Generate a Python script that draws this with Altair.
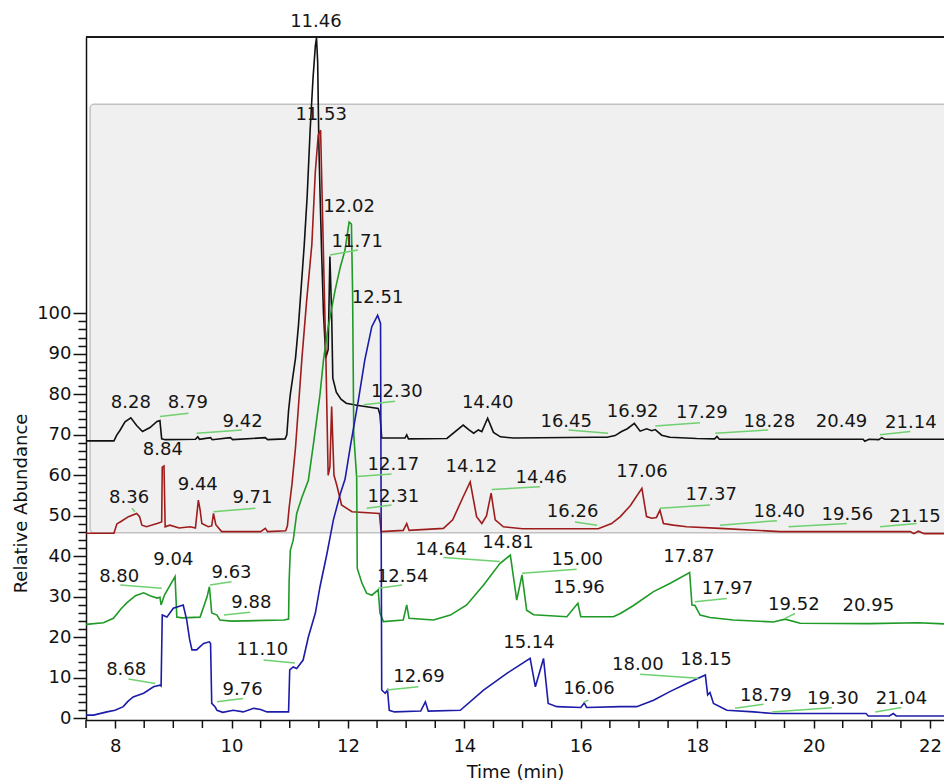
import altair as alt
import pandas as pd

# ---- chromatogram traces (retention time in min, plotted abundance) ----
black_time = [7.50, 7.98, 8.03, 8.08, 8.17, 8.27, 8.37, 8.47, 8.60, 8.72, 8.77, 8.80, 8.86, 9.38, 9.42,
              9.45, 9.64, 9.67, 9.98, 10.02, 10.58, 10.62, 10.92, 10.95, 10.98, 11.01, 11.05, 11.10,
              11.15, 11.20, 11.25, 11.30, 11.35, 11.40, 11.44, 11.46, 11.48, 11.50, 11.52, 11.55, 11.58,
              11.62, 11.66, 11.69, 11.72, 11.74, 11.80, 11.88, 11.97, 12.15, 12.52, 12.55, 12.58, 12.98,
              13.01, 13.04, 13.70, 13.98, 14.08, 14.16, 14.24, 14.30, 14.40, 14.50, 14.62, 14.84, 16.22,
              16.45, 16.59, 16.70, 16.80, 16.92, 17.02, 17.13, 17.22, 17.28, 17.39, 17.53, 17.99, 18.30,
              18.34, 18.38, 20.85, 20.88, 20.95, 21.12, 21.17, 21.22, 22.30]
black_abund = [68.5, 68.5, 70.0, 71.0, 73.2, 74.2, 72.3, 70.8, 71.8, 73.3, 73.5, 69.0, 68.8, 68.9, 69.5,
               68.9, 69.3, 68.8, 69.3, 68.8, 69.3, 68.8, 69.0, 70.0, 76.0, 80.0, 84.0, 89.0,
               97.0, 107.0, 117.0, 129.0, 145.0, 158.0, 166.0, 168.0, 162.0, 142.0, 130.0, 114.0, 100.0,
               89.0, 91.0, 114.0, 100.0, 84.0, 80.5, 78.8, 77.8, 77.3, 76.5, 75.0, 69.2, 69.2,
               70.0, 69.0, 69.1, 72.4, 71.2, 70.4, 71.2, 70.8, 74.1, 70.6, 69.5, 69.2, 69.4,
               69.4, 69.8, 70.8, 71.5, 72.8, 70.9, 71.5, 71.0, 71.3, 69.9, 69.4, 69.1, 69.0,
               69.6, 68.9, 68.9, 68.4, 68.9, 68.8, 69.3, 68.9, 68.9]

red_time = [7.50, 7.98, 8.03, 8.10, 8.23, 8.37, 8.42, 8.46, 8.54, 8.72, 8.80, 8.81, 8.84, 8.86, 8.94,
            9.10, 9.29, 9.38, 9.43, 9.46, 9.49, 9.60, 9.66, 9.69, 9.73, 9.83, 10.50, 10.58, 10.62,
            10.93, 10.96, 10.99, 11.04, 11.10, 11.15, 11.21, 11.29, 11.38, 11.44, 11.49, 11.53, 11.55,
            11.58, 11.62, 11.66, 11.69, 11.72, 11.76, 11.81, 11.89, 12.07, 12.54, 12.57, 12.95, 13.01,
            13.05, 13.64, 13.80, 13.98, 14.10, 14.21, 14.30, 14.38, 14.46, 14.53, 14.67, 15.00, 16.30,
            16.53, 16.68, 16.85, 17.05, 17.13, 17.22, 17.30, 17.36, 17.42, 17.59, 17.82, 18.39, 19.42,
            21.66, 21.72, 21.80, 21.90, 22.30]
red_abund = [45.7, 45.7, 48.0, 48.6, 49.8, 50.6, 49.8, 47.7, 47.3, 48.1, 48.5, 62.0, 62.3, 47.3, 47.7,
             47.0, 47.3, 47.0, 53.9, 51.5, 48.1, 47.3, 47.5, 50.6, 47.8, 46.1, 46.1, 46.9, 46.1,
             46.3, 47.5, 52.0, 58.0, 67.0, 77.0, 89.0, 103.0, 117.0, 135.0, 144.0, 145.2, 133.0,
             114.0, 90.0, 60.0, 62.0, 77.0, 60.0, 57.5, 52.7, 51.0, 50.6, 46.1, 46.4, 48.1,
             46.4, 46.9, 49.0, 54.7, 58.4, 49.8, 48.1, 50.0, 55.6, 49.0, 47.3, 46.8, 46.8,
             48.1, 49.8, 52.5, 56.8, 49.8, 49.4, 49.6, 51.4, 48.1, 47.7, 47.3, 46.9, 46.1,
             46.1, 45.6, 46.2, 45.6, 45.6]

green_time = [7.50, 7.80, 7.97, 8.10, 8.20, 8.35, 8.49, 8.60, 8.72, 8.77, 8.79, 8.85, 9.03, 9.06, 9.15,
              9.46, 9.58, 9.62, 9.66, 9.75, 9.80, 10.00, 10.90, 10.98, 10.99, 11.01, 11.06, 11.12,
              11.21, 11.32, 11.41, 11.52, 11.58, 11.66, 11.78, 11.87, 11.95, 12.02, 12.06, 12.08, 12.10,
              12.15, 12.16, 12.24, 12.32, 12.41, 12.52, 12.55, 12.61, 12.95, 13.01, 13.05, 13.47, 13.76,
              14.04, 14.33, 14.61, 14.79, 14.90, 14.99, 15.07, 15.19, 15.76, 15.95, 16.00, 16.56, 16.68,
              16.90, 17.25, 17.53, 17.87, 17.91, 17.96, 18.05, 18.22, 18.62, 19.31, 19.51, 19.77, 20.95,
              21.80, 22.30]
green_abund = [23.2, 23.6, 24.7, 27.0, 28.5, 30.3, 31.0, 30.3, 29.7, 29.9, 28.0, 30.5, 35.0, 25.0, 24.8,
               25.0, 30.0, 32.5, 26.0, 25.5, 24.3, 24.0, 24.3, 24.5, 34.0, 41.5, 44.0, 50.6,
               54.6, 58.8, 68.0, 80.0, 88.5, 96.6, 105.7, 111.5, 115.6, 122.5, 122.0, 105.0, 70.0,
               59.5, 37.0, 33.4, 30.9, 30.4, 31.7, 26.0, 23.9, 24.3, 28.0, 24.7, 24.3, 25.5,
               28.0, 32.9, 38.2, 40.3, 29.2, 35.4, 26.7, 25.6, 25.1, 28.4, 25.1, 25.1, 25.9,
               27.8, 31.3, 33.3, 36.0, 28.0, 27.9, 25.5, 24.9, 24.3, 23.8, 24.5, 23.5, 23.4,
               23.6, 23.3]

blue_time = [7.50, 7.63, 7.86, 8.00, 8.14, 8.22, 8.31, 8.49, 8.66, 8.77, 8.79, 8.81, 8.89, 9.00, 9.17,
             9.23, 9.28, 9.32, 9.40, 9.52, 9.62, 9.64, 9.66, 9.72, 9.75, 9.85, 10.03, 10.20, 10.38,
             10.50, 10.61, 10.98, 11.00, 11.06, 11.12, 11.23, 11.32, 11.44, 11.52, 11.64, 11.75, 11.87,
             11.95, 12.04, 12.18, 12.29, 12.41, 12.51, 12.56, 12.58, 12.64, 12.68, 12.71, 12.80, 13.25,
             13.33, 13.38, 13.93, 14.33, 14.73, 15.13, 15.22, 15.36, 15.44, 15.59, 16.00, 16.06, 16.10,
             16.68, 16.96, 17.25, 17.53, 17.82, 18.14, 18.18, 18.22, 18.28, 18.51, 18.97, 19.31, 20.90,
             20.94, 21.30, 21.37, 21.42, 22.30]
blue_abund = [0.8, 0.8, 1.6, 2.0, 2.9, 4.2, 5.3, 6.2, 7.8, 8.2, 8.0, 25.5, 25.0, 27.2, 28.0,
              24.3, 19.5, 16.9, 16.9, 18.5, 18.9, 18.5, 3.7, 2.8, 2.0, 1.5, 2.0, 1.6, 2.5,
              2.2, 1.6, 1.6, 12.0, 12.7, 12.3, 14.4, 20.1, 26.0, 32.5, 40.7, 49.0, 55.5,
              59.0, 67.0, 78.6, 88.5, 96.7, 99.5, 97.5, 7.0, 6.2, 7.0, 2.0, 1.6, 1.8,
              4.1, 1.8, 2.0, 7.0, 11.1, 14.8, 7.8, 14.8, 3.7, 2.9, 2.7, 3.8, 2.7,
              2.9, 2.9, 4.5, 6.6, 8.6, 10.7, 5.8, 6.4, 3.7, 2.0, 1.6, 1.2, 1.2,
              0.6, 0.6, 1.2, 0.6, 0.6]

trace_names = ["black", "red", "green", "blue"]
trace_colors = ["#111111", "#9e1c1c", "#1f9a27", "#1c1ca8"]

# ---- peak annotations: text and its anchor ----
label_text = ["11.46", "11.53", "12.02", "11.71", "12.51", "12.30", "14.40", "16.45", "16.92", "17.29",
              "18.28", "20.49", "21.14", "8.28", "8.79", "9.42", "8.84", "8.36", "9.44", "9.71",
              "12.17", "12.31", "14.12", "14.46", "16.26", "17.06", "17.37", "18.40", "19.56", "21.15",
              "8.80", "9.04", "9.63", "9.88", "8.68", "9.76", "11.10", "12.54", "12.69", "14.64",
              "14.81", "15.00", "15.96", "15.14", "16.06", "18.00", "18.15", "17.87", "17.97", "19.52",
              "20.95", "18.79", "19.30", "21.04"]
label_x = [11.45, 11.54, 12.02, 12.16, 12.51, 12.84, 14.40, 15.75, 16.89, 18.08,
           19.24, 20.48, 21.67, 8.27, 9.25, 10.19, 8.82, 8.24, 9.42, 10.36,
           12.78, 12.78, 14.12, 15.32, 15.86, 17.05, 18.24, 19.41, 20.58, 21.74,
           8.07, 9.00, 10.00, 10.34, 8.19, 10.19, 10.53, 12.94, 13.22, 13.60,
           14.75, 15.94, 15.97, 15.11, 16.14, 16.98, 18.15, 17.86, 18.52, 19.66,
           20.94, 19.18, 20.33, 21.51]
label_y = [171.9, 149.0, 126.3, 117.7, 103.7, 80.6, 77.8, 73.2, 75.7, 75.3,
           73.2, 73.2, 73.0, 77.8, 77.8, 73.2, 66.2, 54.3, 57.6, 54.3,
           62.5, 54.7, 62.1, 59.4, 51.0, 60.9, 55.1, 51.0, 50.2, 49.8,
           35.0, 39.1, 35.8, 28.4, 11.9, 7.0, 16.9, 35.0, 10.3, 41.6,
           43.4, 39.1, 32.1, 18.7, 7.2, 13.2, 14.4, 39.9, 31.9, 28.0,
           27.7, 5.5, 4.7, 4.7]

# ---- leader lines from displaced labels back to their peaks ----
leader_x1 = [11.69, 12.27, 15.79, 17.28, 18.31, 21.14, 8.77, 9.40, 8.29, 9.69,
             12.15, 12.32, 14.47, 15.90, 17.36, 18.39, 19.57, 21.14, 8.09, 9.63,
             9.87, 8.23, 9.75, 10.55, 12.52, 12.67, 13.64, 14.99, 16.04, 17.02,
             17.96, 19.51, 18.65, 19.28, 21.06]
leader_y1 = [114.4, 77.4, 71.2, 72.2, 70.4, 70.0, 74.5, 70.4, 51.9, 51.0,
             59.7, 51.9, 56.5, 48.5, 51.9, 47.7, 47.3, 47.3, 32.9, 32.9,
             25.5, 9.7, 4.1, 14.4, 32.1, 7.0, 39.7, 35.8, 3.9, 10.9,
             28.8, 24.7, 2.5, 1.6, 1.6]
leader_x2 = [12.17, 12.81, 16.47, 18.05, 19.22, 21.66, 9.26, 10.18, 8.34, 10.41,
             12.75, 12.75, 15.30, 16.28, 18.22, 19.37, 20.57, 21.77, 8.80, 10.00,
             10.32, 8.69, 10.20, 11.09, 12.93, 13.21, 14.61, 15.93, 16.13, 18.02,
             18.51, 19.68, 19.14, 20.31, 21.51]
leader_y2 = [115.6, 78.3, 70.4, 73.0, 71.2, 70.8, 75.3, 71.2, 51.0, 51.9,
             60.3, 52.7, 57.2, 47.7, 52.7, 48.8, 48.1, 48.1, 32.1, 33.7,
             26.2, 8.6, 4.9, 13.7, 32.9, 7.8, 38.7, 36.8, 4.5, 9.9,
             29.6, 25.9, 3.5, 2.6, 2.7]

# time axis: numbered ticks every two minutes, unnumbered ticks every half minute between
time_major = [8, 10, 12, 14, 16, 18, 20, 22]
time_minor = [7.5, 8.5, 9, 9.5, 10.5, 11, 11.5, 12.5, 13, 13.5, 14.5, 15, 15.5,
              16.5, 17, 17.5, 18.5, 19, 19.5, 20.5, 21, 21.5]
abund_ticks = list(range(0, 101, 2))

# offset plane behind the two upper traces
plane_x, plane_x2 = 7.57, 23.0
plane_y, plane_y2 = 45.8, 151.6

FONT = "DejaVu Sans"
PLOT_W, PLOT_H = 858, 683
TICK_LEN = 8

xscale = alt.Scale(domain=[7.5, 22.24], nice=False, zero=False)
yscale = alt.Scale(domain=[-0.4, 168.2], nice=False, zero=False)

xaxis = alt.Axis(
    title="Time (min)",
    values=time_major,
    labelOverlap=False,
    labelFlush=False,
    format="d",
    tickSize=TICK_LEN,
    tickColor="#111111",
    tickWidth=1.5,
    domainColor="#111111",
    domainWidth=1.5,
    labelFont=FONT,
    labelFontSize=18,
    labelColor="#111111",
    labelPadding=9,
    titleFont=FONT,
    titleFontSize=18,
    titleFontWeight="normal",
    titleColor="#111111",
    titlePadding=8,
    grid=False,
)
yaxis = alt.Axis(
    title="Relative Abundance",
    values=abund_ticks,
    labelExpr="datum.value % 10 == 0 ? datum.label : ''",
    labelOverlap=False,
    format="d",
    tickSize={"condition": {"test": "datum.value % 10 == 0", "value": 13}, "value": 8},
    tickColor="#111111",
    tickWidth=1.5,
    domainColor="#111111",
    domainWidth=1.5,
    labelFont=FONT,
    labelFontSize=18,
    labelColor="#111111",
    labelPadding=2,
    titleFont=FONT,
    titleFontSize=18,
    titleFontWeight="normal",
    titleColor="#111111",
    titlePadding=6,
    titleY=466,
    grid=False,
)


def X(field):
    return alt.X(field, type="quantitative", scale=xscale, axis=xaxis)


def Y(field):
    return alt.Y(field, type="quantitative", scale=yscale, axis=yaxis)


frames = []
for name, t, a in zip(trace_names,
                      [black_time, red_time, green_time, blue_time],
                      [black_abund, red_abund, green_abund, blue_abund]):
    frames.append(pd.DataFrame({"time": t, "abund": a, "trace": name, "order": range(len(t))}))
traces = pd.concat(frames, ignore_index=True)

plane_df = pd.DataFrame({"x": [plane_x], "x2": [plane_x2], "y": [plane_y], "y2": [plane_y2]})
labels_df = pd.DataFrame({"text": label_text, "x": label_x, "y": label_y})
leaders_df = pd.DataFrame({"x": leader_x1, "y": leader_y1, "x2": leader_x2, "y2": leader_y2})
minor_df = pd.DataFrame({"t": time_minor})

plane = alt.Chart(plane_df).mark_rect(
    fill="#f0f0f0", stroke="#c2c2c2", strokeWidth=1.5, cornerRadius=4, clip=True
).encode(x=X("x"), x2="x2:Q", y=Y("y"), y2="y2:Q")

top_frame = alt.Chart(plane_df).mark_rule(color="#1a1a1a", strokeWidth=2).encode(
    x=alt.value(0), x2=alt.value(PLOT_W), y=alt.value(0)
)

# unnumbered half-minute ticks hanging below the time axis
minor_ticks = alt.Chart(minor_df).mark_rule(color="#111111", strokeWidth=1.5).encode(
    x=X("t"), y=alt.value(PLOT_H), y2=alt.value(PLOT_H + TICK_LEN)
)

lines = alt.Chart(traces).mark_line(strokeWidth=1.6, clip=True).encode(
    x=X("time"),
    y=Y("abund"),
    color=alt.Color("trace:N", scale=alt.Scale(domain=trace_names, range=trace_colors), legend=None),
    order="order:Q",
)

leaders = alt.Chart(leaders_df).mark_rule(color="#6fd06f", strokeWidth=1.5).encode(
    x=X("x"), y=Y("y"), x2="x2:Q", y2="y2:Q"
)

labels = alt.Chart(labels_df).mark_text(
    font=FONT, fontSize=18, color="#161616", align="center", baseline="middle"
).encode(x=X("x"), y=Y("y"), text="text:N")

chart = (
    alt.layer(plane, top_frame, minor_ticks, lines, leaders, labels)
    .properties(
        width=PLOT_W,
        height=PLOT_H,
        autosize=alt.AutoSizeParams(type="none"),
        padding={"left": 86, "top": 37, "right": 0, "bottom": 62},
        background="white",
    )
    .configure_view(stroke=None)
)

chart.save("out.html", embed_options={"renderer": "svg", "actions": False})
